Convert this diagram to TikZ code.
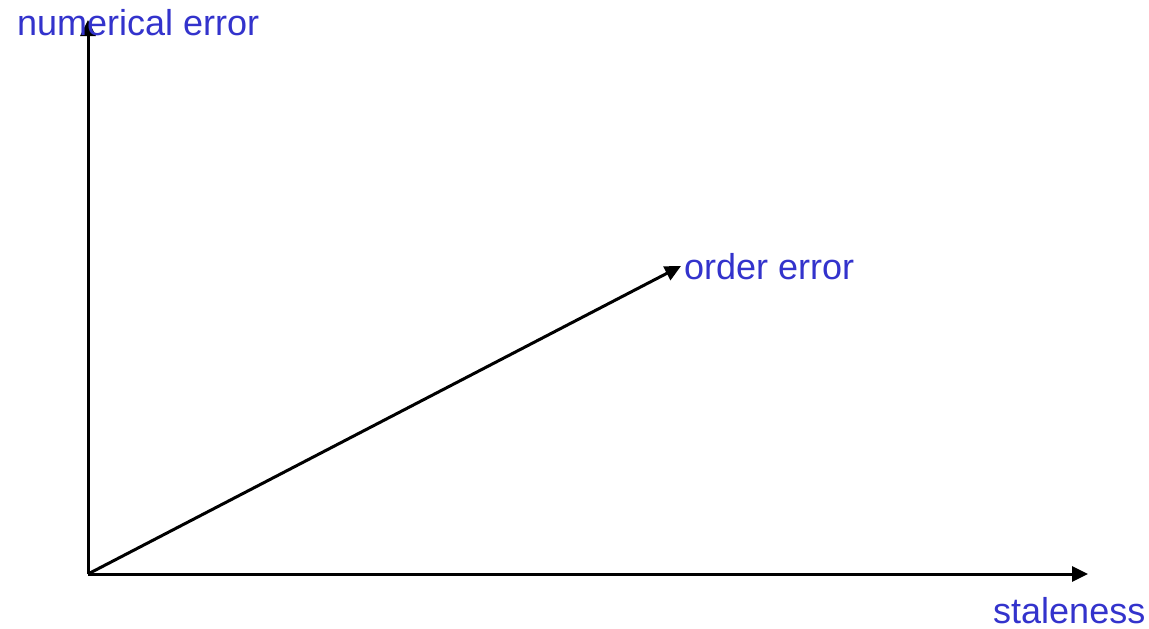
\documentclass[tikz,border=0pt]{standalone}
\usepackage{fontspec}
\setmainfont{Liberation Sans}
\usetikzlibrary{arrows.meta}
\definecolor{lblue}{RGB}{51,51,204}
\begin{document}
\begin{tikzpicture}[x=1pt,y=-1pt,
  axis/.style={line width=3pt,-{Triangle[length=16pt,width=15pt]}},
  lbl/.style={anchor=base west,inner sep=0pt,text=lblue,font=\fontsize{36}{40}\selectfont}]
\useasboundingbox (0,0) rectangle (1149,629);
\coordinate (o) at (88,574);
\coordinate (ytip) at (88,20);
\coordinate (xtip) at (1088,574);
\coordinate (dtip) at (681,266);
\draw[axis] (o) -- (ytip);
\draw[axis] (o) -- (xtip);
\draw[axis] (o) -- (dtip);
\node[lbl] (ne) at (17,35) {numerical error};
\node[lbl] (oe) at (684,279) {order error};
\node[lbl] (st) at (993,623) {staleness};
\end{tikzpicture}
\end{document}
